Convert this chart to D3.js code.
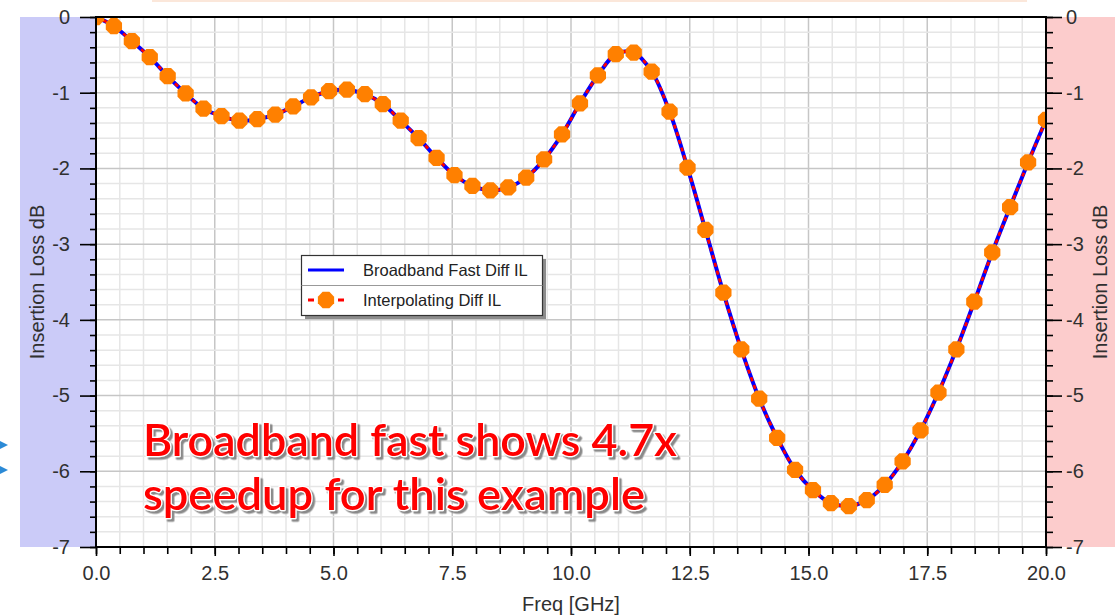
<!DOCTYPE html>
<html><head><meta charset="utf-8">
<script src="https://cdn.jsdelivr.net/npm/d3@7"></script>
<style>body{margin:0;background:#fff;} svg{display:block;}</style>
</head><body>
<svg id="c" width="1115" height="616"></svg>
<script>
// ---- data ----
const freqGHz = [0, 0.377, 0.755, 1.132, 1.509, 1.887, 2.264, 2.642, 3.019, 3.396, 3.774, 4.151, 4.528, 4.906, 5.283, 5.660, 6.038, 6.415, 6.792, 7.170, 7.547, 7.925, 8.302, 8.679, 9.057, 9.434, 9.811, 10.189, 10.566, 10.943, 11.321, 11.698, 12.075, 12.453, 12.830, 13.208, 13.585, 13.962, 14.340, 14.717, 15.094, 15.472, 15.849, 16.226, 16.604, 16.981, 17.358, 17.736, 18.113, 18.491, 18.868, 19.245, 19.623, 20.0];
const broadbandIL = [0, -0.12, -0.32, -0.53, -0.78, -1.01, -1.21, -1.31, -1.37, -1.35, -1.29, -1.18, -1.06, -0.98, -0.96, -1.02, -1.15, -1.37, -1.60, -1.86, -2.09, -2.23, -2.29, -2.25, -2.12, -1.88, -1.55, -1.14, -0.77, -0.49, -0.47, -0.72, -1.25, -1.99, -2.81, -3.64, -4.39, -5.04, -5.56, -5.98, -6.25, -6.42, -6.46, -6.38, -6.18, -5.87, -5.46, -4.96, -4.39, -3.76, -3.11, -2.51, -1.92, -1.36];
const interpolatingIL = [0, -0.12, -0.32, -0.53, -0.78, -1.01, -1.21, -1.31, -1.37, -1.35, -1.29, -1.18, -1.06, -0.98, -0.96, -1.02, -1.15, -1.37, -1.60, -1.86, -2.09, -2.23, -2.29, -2.25, -2.12, -1.88, -1.55, -1.14, -0.77, -0.49, -0.47, -0.72, -1.25, -1.99, -2.81, -3.64, -4.39, -5.04, -5.56, -5.98, -6.25, -6.42, -6.46, -6.38, -6.18, -5.87, -5.46, -4.96, -4.39, -3.76, -3.11, -2.51, -1.92, -1.36];
const xTickValues = [0, 2.5, 5, 7.5, 10, 12.5, 15, 17.5, 20];
const yTickValues = [0, -1, -2, -3, -4, -5, -6, -7];
const seriesNames = ["Broadband Fast Diff IL", "Interpolating Diff IL"];
const xTitle = "Freq [GHz]";
const yTitle = "Insertion Loss dB";
const noteLines = ["Broadband fast shows 4.7x", "speedup for this example"];

// ---- layout ----
const L = 96, R = 1046, T = 17, B = 547;
const svg = d3.select("#c");
const x = d3.scaleLinear().domain([0, 20]).range([L, R]);
const y = d3.scaleLinear().domain([-7, 0]).range([B, T]);
const FONT = "'Liberation Sans', Arial, sans-serif";

const defs = svg.append("defs");
const f = defs.append("filter").attr("id", "shadow").attr("x", "-5%").attr("y", "-20%").attr("width", "110%").attr("height", "150%");
f.append("feDropShadow").attr("dx", 2.5).attr("dy", 2.5).attr("stdDeviation", 0.6).attr("flood-color", "#8a8a8a").attr("flood-opacity", 1);

// top faint frame
svg.append("rect").attr("x", 152).attr("y", 0).attr("width", 875).attr("height", 2).attr("fill", "#fbe7da");

// side bands
svg.append("rect").attr("x", 20).attr("y", T).attr("width", L - 20).attr("height", B - T).attr("fill", "#cbcbf8");
svg.append("rect").attr("x", R).attr("y", T).attr("width", 1115 - R).attr("height", B - T).attr("fill", "#fccccc");

// left edge decoration (blue arrow tips)
svg.append("path").attr("d", "M0,441 L8,445 L0,449 Z").attr("fill", "#2b8ad6");
svg.append("path").attr("d", "M0,466 L8,470 L0,474 Z").attr("fill", "#2b8ad6");

// grid
const g = svg.append("g");
const xMinor = x.ticks(40), yMinor = y.ticks(35);
g.selectAll(".vx").data(xMinor).join("line")
  .attr("x1", d => x(d)).attr("x2", d => x(d)).attr("y1", T).attr("y2", B)
  .attr("stroke", d => (Math.abs(d / 2.5 - Math.round(d / 2.5)) < 1e-6) ? "#c6c6c6" : "#e6e6e6")
  .attr("stroke-width", 1.5);
g.selectAll(".hy").data(yMinor).join("line")
  .attr("y1", d => y(d)).attr("y2", d => y(d)).attr("x1", L).attr("x2", R)
  .attr("stroke", d => (Math.abs(d - Math.round(d)) < 1e-6) ? "#c6c6c6" : "#e6e6e6")
  .attr("stroke-width", 1.5);

// annotation
const note = svg.append("g").attr("font-family", "Lato, 'Open Sans', sans-serif").attr("font-weight", 600).attr("font-size", 44)
  .attr("filter", "url(#shadow)");
const noteBase = [456, 510], noteLen = [534, 502];
noteLines.forEach((t, i) => {
  note.append("text").attr("x", 143).attr("y", noteBase[i]).text(t)
    .attr("textLength", noteLen[i]).attr("lengthAdjust", "spacingAndGlyphs")
    .attr("fill", "#ff0000").attr("stroke", "#ffffff").attr("stroke-width", 2.5).attr("stroke-linejoin", "round")
    .attr("paint-order", "stroke");
});

// legend
const lg = svg.append("g");
lg.append("rect").attr("x", 305).attr("y", 259).attr("width", 241).attr("height", 60).attr("fill", "#8c8c8c");
lg.append("rect").attr("x", 301.5).attr("y", 255.5).attr("width", 241).attr("height", 60).attr("fill", "#fff").attr("stroke", "#333").attr("stroke-width", 1.2);
lg.append("line").attr("x1", 301.5).attr("x2", 542.5).attr("y1", 285.5).attr("y2", 285.5).attr("stroke", "#999").attr("stroke-width", 1);
lg.append("line").attr("x1", 308).attr("x2", 344).attr("y1", 270).attr("y2", 270).attr("stroke", "#0000ff").attr("stroke-width", 3);
lg.append("line").attr("x1", 308).attr("x2", 344).attr("y1", 300).attr("y2", 300).attr("stroke", "#ff0000").attr("stroke-width", 3).attr("stroke-dasharray", "6,24");

function octagon(r) {
  const pts = d3.range(8).map(k => { const a = Math.PI / 8 + k * Math.PI / 4; return [r * Math.cos(a), r * Math.sin(a)]; });
  return "M" + pts.map(p => p.join(",")).join("L") + "Z";
}
lg.append("path").attr("d", octagon(8.8)).attr("transform", "translate(326,300)").attr("fill", "#ff8000");
seriesNames.forEach((n, i) => {
  lg.append("text").attr("x", 363).attr("y", 270 + 30 * i).attr("dy", "0.36em").text(n)
    .attr("font-family", FONT).attr("font-size", 16.5).attr("fill", "#222");
});

// curves
svg.append("clipPath").attr("id", "clip").append("rect").attr("x", L).attr("y", T).attr("width", R - L).attr("height", B - T);
const plot = svg.append("g").attr("clip-path", "url(#clip)");
const line = d3.line().curve(d3.curveCatmullRom.alpha(0.5));
const bb = freqGHz.map((f, i) => [x(f), y(broadbandIL[i])]);
const ip = freqGHz.map((f, i) => [x(f), y(interpolatingIL[i])]);
plot.append("path").attr("d", line(bb)).attr("fill", "none").attr("stroke", "#0000ff").attr("stroke-width", 4);
plot.append("path").attr("d", line(ip)).attr("fill", "none").attr("stroke", "#ff0000").attr("stroke-width", 2.8).attr("stroke-dasharray", "4,4");
plot.selectAll(".m").data(ip).join("path").attr("d", octagon(8.8))
  .attr("transform", d => `translate(${d[0]},${d[1]})`).attr("fill", "#ff8000");

// axes
function styleAxis(sel) {
  sel.selectAll("path").remove();
  sel.selectAll("line").attr("stroke", "#000").attr("stroke-width", 1.6);
  sel.selectAll("text").attr("font-family", FONT).attr("font-size", 20).attr("fill", "#303030");
}
const yFmt = d => String(d);
const xFmt = d => d.toFixed(1);
svg.append("g").attr("transform", `translate(${L},0)`).call(d3.axisLeft(y).tickValues(yMinor).tickSize(6).tickFormat("")).call(styleAxis);
svg.append("g").attr("transform", `translate(${L},0)`).call(d3.axisLeft(y).tickValues(yTickValues).tickSize(16).tickPadding(10).tickFormat(yFmt)).call(styleAxis);
svg.append("g").attr("transform", `translate(${R},0)`).call(d3.axisRight(y).tickValues(yMinor).tickSize(7).tickFormat("")).call(styleAxis);
svg.append("g").attr("transform", `translate(${R},0)`).call(d3.axisRight(y).tickValues(yTickValues).tickSize(16).tickPadding(4).tickFormat(yFmt)).call(styleAxis);
svg.append("g").attr("transform", `translate(0,${B})`).call(d3.axisBottom(x).tickValues(xMinor).tickSize(7).tickFormat("")).call(styleAxis);
svg.append("g").attr("transform", `translate(0,${B})`).call(d3.axisBottom(x).tickValues(xTickValues).tickSize(9).tickPadding(10).tickFormat(xFmt)).call(styleAxis);

// frame
svg.append("rect").attr("x", L).attr("y", T).attr("width", R - L).attr("height", B - T)
  .attr("fill", "none").attr("stroke", "#000").attr("stroke-width", 2);

// titles
svg.append("text").attr("x", x(10)).attr("y", 611).attr("text-anchor", "middle").text(xTitle)
  .attr("font-family", FONT).attr("font-size", 20).attr("fill", "#303030");
svg.append("text").attr("transform", `translate(44,${(T + B) / 2}) rotate(-90)`).attr("text-anchor", "middle").text(yTitle)
  .attr("font-family", FONT).attr("font-size", 20).attr("fill", "#303030");
svg.append("text").attr("transform", `translate(1107,${(T + B) / 2}) rotate(-90)`).attr("text-anchor", "middle").text(yTitle)
  .attr("font-family", FONT).attr("font-size", 20).attr("fill", "#303030");
</script>
</body></html>
